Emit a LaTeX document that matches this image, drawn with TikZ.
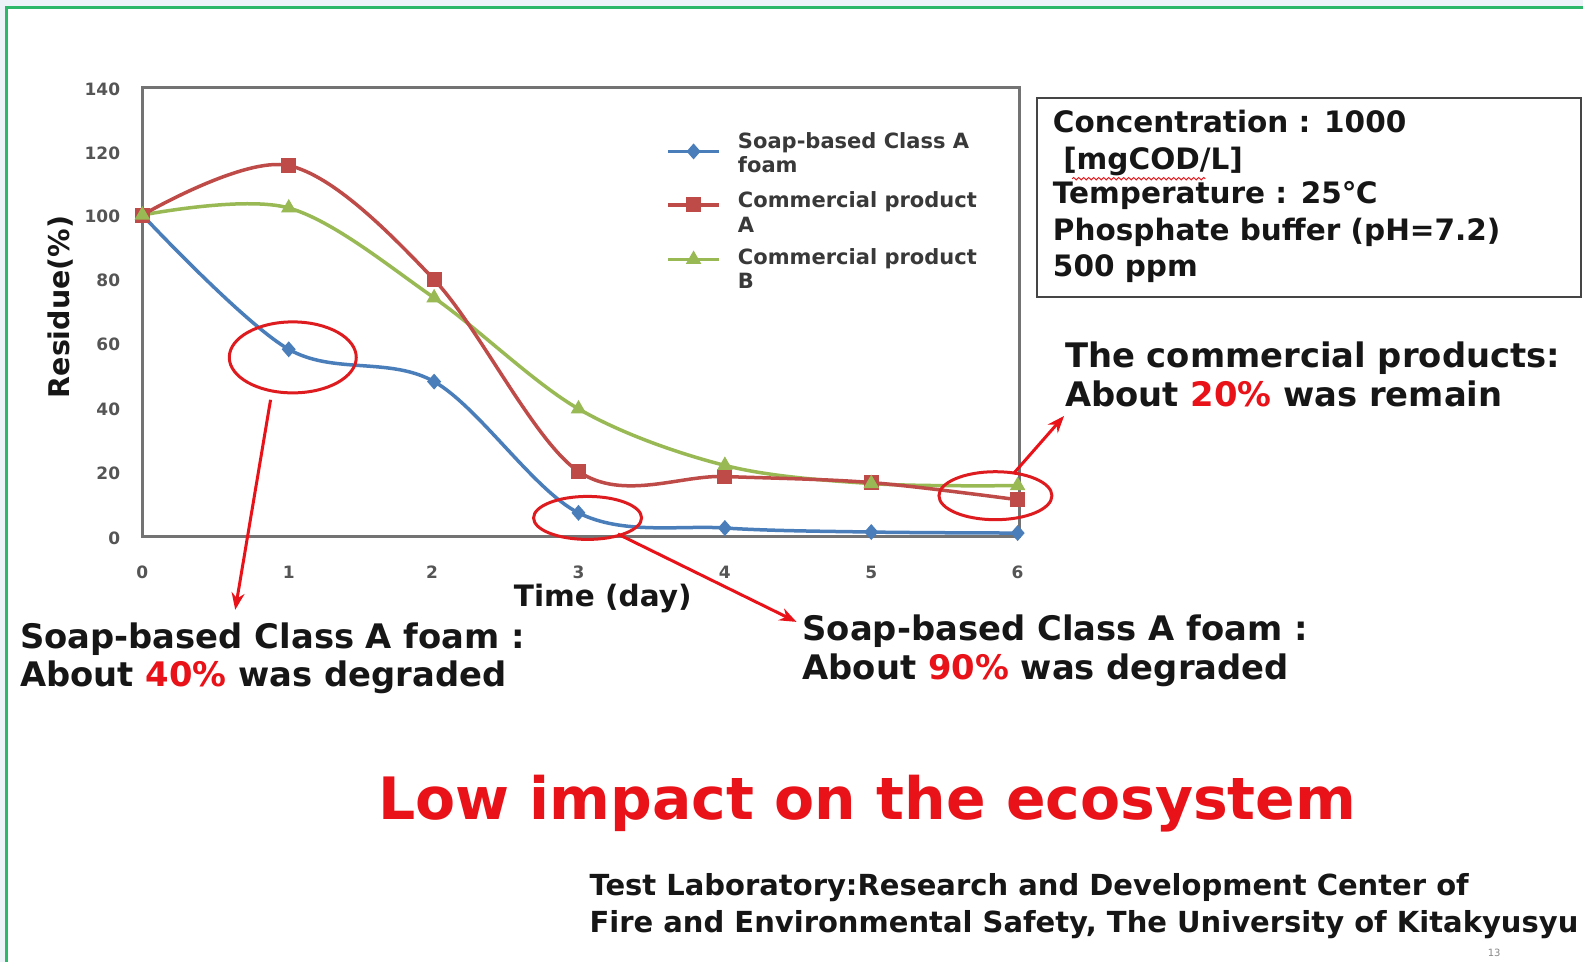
\documentclass[tikz,border=0pt]{standalone}
\usepackage{fontspec}
\setmainfont{DejaVu Sans}
\usetikzlibrary{shapes.geometric,arrows.meta,decorations.pathmorphing,fit}
\definecolor{bgout}{RGB}{238,242,249}
\definecolor{frameg}{RGB}{46,184,106}
\definecolor{hired}{RGB}{232,18,24}
\definecolor{ellred}{RGB}{222,28,32}
\definecolor{sblue}{RGB}{74,126,187}
\definecolor{sred}{RGB}{190,75,72}
\definecolor{sgreen}{RGB}{152,185,84}
\definecolor{axgray}{RGB}{115,115,115}
\definecolor{txt}{RGB}{22,22,22}
\definecolor{ticktxt}{RGB}{85,85,85}
\begin{document}
\begin{tikzpicture}[x=1.0096pt,y=-1.0096pt,
  every node/.style={inner sep=0pt, outer sep=0pt},
  bigtxt/.style={anchor=base west, text=txt, font=\fontsize{33.8}{40}\selectfont\bfseries},
  infotxt/.style={anchor=base west, text=txt, font=\fontsize{29.5}{35}\selectfont\bfseries},
  legtxt/.style={anchor=base west, text=txt!85, font=\fontsize{21}{25}\selectfont\bfseries},
  ticklab/.style={text=ticktxt, font=\fontsize{17}{20}\selectfont\bfseries},
  axlab/.style={text=txt, font=\fontsize{29.5}{35}\selectfont\bfseries},
  foot/.style={anchor=base west, text=txt, font=\fontsize{29}{34}\selectfont\bfseries},
  series/.style={line width=3.5pt, smooth, tension=0.55},
  bmark/.style={diamond, fill=sblue, minimum width=14pt, minimum height=16pt},
  rmark/.style={rectangle, fill=sred, minimum width=15pt, minimum height=15pt},
  gmark/.style={regular polygon, regular polygon sides=3, fill=sgreen, minimum size=18pt},
  hiell/.style={ellipse, draw=ellred, line width=3pt},
  redarrow/.style={draw=hired, line width=3pt, -{Stealth[length=17pt,width=13pt]}},
]
\useasboundingbox (0,0) rectangle (1568,952.85);
\fill[bgout] (0,0) rectangle (1568,952.85);
\fill[white] (6.5,7.5) rectangle (1568,952.85);
\draw[frameg, line width=2.5pt] (6.5,952.85) -- (6.5,7.5) -- (1568,7.5);

% plot frame
\coordinate (pnw) at (141,87);
\coordinate (pse) at (1010,531);
\node[draw=axgray, line width=3pt, fit=(pnw)(pse)] (plotbox) {};

% y tick labels
\foreach \v/\yy in {140/88,120/152,100/214,80/278,60/341,40/405,20/469,0/533}
  \node[ticklab, anchor=east] (yt\v) at (119,\yy) {\v};
% x tick labels
\foreach \d/\xx in {0/141,1/286,2/428,3/573,4/718,5/863,6/1008}
  \node[ticklab] (xt\d) at (\xx,567) {\d};

\node[axlab, rotate=90, font=\fontsize{28.5}{34}\selectfont\bfseries] (ylab) at (60,304) {Residue(\%)};
\node[axlab] (xlab) at (597,593) {Time (day)};

% series
\draw[sgreen, series] plot coordinates {(141,213) (286,206) (430,295) (573,405) (718,461) (863,479) (1008,481)};
\draw[sred, series] plot coordinates {(141,213) (286,164) (430,277) (573,467) (718,472) (863,478) (1008,495)};
\draw[sblue, series] plot coordinates {(141,213) (286,346) (430,378) (573,508) (718,523) (863,527) (1008,528)};

\foreach \p/\xx/\yy in {0/141/213,1/286/346,2/430/378,3/573/508,4/718/523,5/863/527,6/1008/528}
  \node[bmark] (b\p) at (\xx,\yy) {};
\foreach \p/\xx/\yy in {0/141/213,1/286/164,2/430/277,3/573/467,4/718/472,5/863/478,6/1008/495}
  \node[rmark] (r\p) at (\xx,\yy) {};
\foreach \p/\xx/\yy in {0/141/213,1/286/206,2/430/295,3/573/405,4/718/461,5/863/479,6/1008/481}
  \node[gmark] (g\p) at (\xx,\yy) {};

% legend
\draw[sblue, line width=3.5pt] (662,150) -- (712,150);
\node[bmark] (lb) at (687,150) {};
\draw[sred, line width=3.5pt] (662,203) -- (712,203);
\node[rmark] (lr) at (687,203) {};
\draw[sgreen, line width=3.5pt] (662,257) -- (712,257);
\node[gmark] (lg) at (687,257) {};
\node[legtxt] (l1a) at (731,147) {Soap-based Class A};
\node[legtxt] (l1b) at (731,171) {foam};
\node[legtxt] (l2a) at (731,206) {Commercial product};
\node[legtxt] (l2b) at (731,230) {A};
\node[legtxt] (l3a) at (731,262) {Commercial product};
\node[legtxt] (l3b) at (731,286) {B};

% info box
\coordinate (inw) at (1027,97);
\coordinate (ise) at (1566,294);
\node[draw=txt!80, line width=2.5pt, fit=(inw)(ise)] (info) {};
\node[infotxt] (i1) at (1043,131) {Concentration : 1000};
\node[infotxt] (i2) at (1043,168) {\ [mgCOD/L]};
\node[infotxt] (i3) at (1043,202) {Temperature : 25℃};
\node[infotxt] (i4) at (1043,238) {Phosphate buffer (pH=7.2)};
\node[infotxt] (i5) at (1043,274) {500 ppm};
\draw[ellred, line width=1pt, decorate, decoration={snake, amplitude=1.2pt, segment length=5pt}] (1062,177) -- (1194,177);

% highlight ellipses
\node[hiell, minimum width=127pt, minimum height=71pt] (e1) at (290,354) {};
\node[hiell, minimum width=108pt, minimum height=43pt] (e2) at (582,513) {};
\node[hiell, minimum width=113pt, minimum height=48pt] (e3) at (986,491) {};

% annotations
\node[bigtxt] (t1a) at (20,642) {Soap-based Class A foam :};
\node[bigtxt] (t1b) at (20,680) {About \textcolor{hired}{40\%} was degraded};
\node[bigtxt] (t2a) at (795,634) {Soap-based Class A foam :};
\node[bigtxt] (t2b) at (795,673) {About \textcolor{hired}{90\%} was degraded};
\node[bigtxt] (t3a) at (1055,364) {The commercial products:};
\node[bigtxt] (t3b) at (1055,403) {About \textcolor{hired}{20\%} was remain};

% arrows
\coordinate (a1s) at (268,396);
\coordinate (a1e) at (233,604);
\coordinate (a2s) at (612,529);
\coordinate (a2e) at (789,616);
\coordinate (a3s) at (1004,469);
\coordinate (a3e) at (1054,412);
\draw[redarrow] (a1s) -- (a1e);
\draw[redarrow] (a2s) -- (a2e);
\draw[redarrow] (a3s) -- (a3e);

% title
\node[anchor=base, text=hired, font=\fontsize{58.4}{70}\selectfont\bfseries] (title) at (859,812) {Low impact on the ecosystem};

% footer
\node[foot] (f1) at (584,887) {Test Laboratory:Research and Development Center of};
\node[foot] (f2) at (584,924) {Fire and Environmental Safety, The University of Kitakyusyu};
\node[text=ticktxt!70, font=\fontsize{10}{12}\selectfont] (pg) at (1480,944) {13};
\end{tikzpicture}
\end{document}
